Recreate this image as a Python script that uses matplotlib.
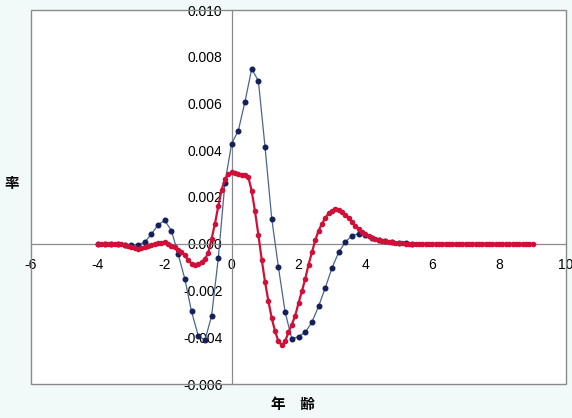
import numpy as np
import matplotlib.pyplot as plt
from matplotlib.patches import Rectangle

plt.rcParams['font.family'] = ['Liberation Sans', 'DejaVu Sans']

# red series: every 0.1 from -4 to 9 (values in units of 0.001)
age_red = np.round(np.arange(-4.0, 9.05, 0.1), 1)
rate_red = [
    0.00, 0.00, 0.00, 0.00, -0.01, -0.01, -0.01,
    -0.02, -0.05, -0.10, -0.15, -0.20, -0.22, -0.20, -0.15, -0.10, -0.05, -0.02, 0.02, 0.05, 0.07,
    0.00, -0.08, -0.15, -0.25, -0.35, -0.50, -0.70, -0.85, -0.93, -0.88,
    -0.80, -0.65, -0.40, 0.20, 0.85, 1.60, 2.30, 2.75, 2.98, 3.05,
    3.02, 2.98, 2.95, 2.96, 2.85, 2.26, 1.38, 0.38, -0.68, -1.64,
    -2.46, -3.18, -3.75, -4.17, -4.35, -4.17, -3.79, -3.46, -3.08, -2.54,
    -2.04, -1.51, -0.90, -0.37, 0.14, 0.56, 0.85, 1.10, 1.30, 1.42,
    1.47, 1.44, 1.36, 1.25, 1.10, 0.93, 0.77, 0.62, 0.50, 0.40,
    0.32, 0.26, 0.21, 0.17, 0.13, 0.10, 0.08, 0.06, 0.04, 0.03,
    0.02, 0.01, 0.01, 0.00, 0.00, 0.00, 0.00, 0.00, 0.00, 0.00,
    0.00, 0.00, 0.00, 0.00, 0.00, 0.00, 0.00, 0.00, 0.00, 0.00,
    0.00, 0.00, 0.00, 0.00, 0.00, 0.00, 0.00, 0.00, 0.00, 0.00,
    0.00, 0.00, 0.00, 0.00, 0.00, 0.00, 0.00, 0.00, 0.00, 0.00,
]

# blue series: every 0.2 from -4 to 5.4
age_blue = np.round(np.arange(-4.0, 5.45, 0.2), 1)
rate_blue = [
    0.00, 0.00, 0.00, -0.02, -0.04, -0.05, -0.04, 0.07, 0.41, 0.81, 1.00,
    0.56, -0.44, -1.50, -2.89, -3.93, -4.13, -3.10, -0.63, 2.60, 4.28,
    4.84, 6.08, 7.48, 6.97, 4.13, 1.07, -1.01, -2.92, -4.07, -3.97,
    -3.79, -3.36, -2.68, -1.89, -1.04, -0.37, 0.07, 0.35, 0.43, 0.38,
    0.26, 0.17, 0.12, 0.07, 0.04, 0.02, 0.00,
]

x_ticks = [-6, -4, -2, 0, 2, 4, 6, 8, 10]
y_ticks = [-0.006, -0.004, -0.002, 0.000, 0.002, 0.004, 0.006, 0.008, 0.010]

fig = plt.figure(figsize=(5.72, 4.18), dpi=100, facecolor='#f1f9f9')
ax = fig.add_axes([31 / 572, 34 / 418, 535 / 572, 374 / 418])
ax.set_facecolor('white')

ax.plot(age_blue, np.array(rate_blue) * 1e-3, color='#4a6494', lw=0.9,
        marker='o', ms=3.3, mfc='#15205a', mec='#15205a', zorder=3)
ax.plot(age_red, np.array(rate_red) * 1e-3, color='#d01038', lw=1.6,
        marker='o', ms=3.0, mfc='#d01038', mec='#d01038', zorder=4)

ax.set_xlim(-6, 10)
ax.set_ylim(-0.006, 0.010)
ax.set_xticks(x_ticks)
ax.set_xticklabels([str(t) for t in x_ticks])
ax.set_yticks(y_ticks)
ax.set_yticklabels(['%.3f' % t for t in y_ticks])

for s in ['left', 'bottom']:
    ax.spines[s].set_position(('data', 0))
    ax.spines[s].set_color('#8a8a8a')
    ax.spines[s].set_linewidth(0.9)
for s in ['top', 'right']:
    ax.spines[s].set_visible(False)
ax.add_patch(Rectangle((0, 0), 1, 1, transform=ax.transAxes, fill=False,
                       ec='#8a8a8a', lw=1.0, zorder=5, clip_on=False))

ax.tick_params(axis='both', length=0, labelsize=10, colors='black')
ax.tick_params(axis='x', pad=10)
ax.tick_params(axis='y', pad=6.5)

fig.text(12 / 572, 1 - 183 / 418, '率', family=['Noto Sans CJK JP'],
         fontsize=10.5, fontweight='bold', ha='center', va='center')
fig.text(293 / 572, 1 - 404 / 418, '年\u3000齢', family=['Noto Sans CJK JP'],
         fontsize=10.5, fontweight='bold', ha='center', va='center')

fig.savefig('out.png', dpi=100, facecolor=fig.get_facecolor())
